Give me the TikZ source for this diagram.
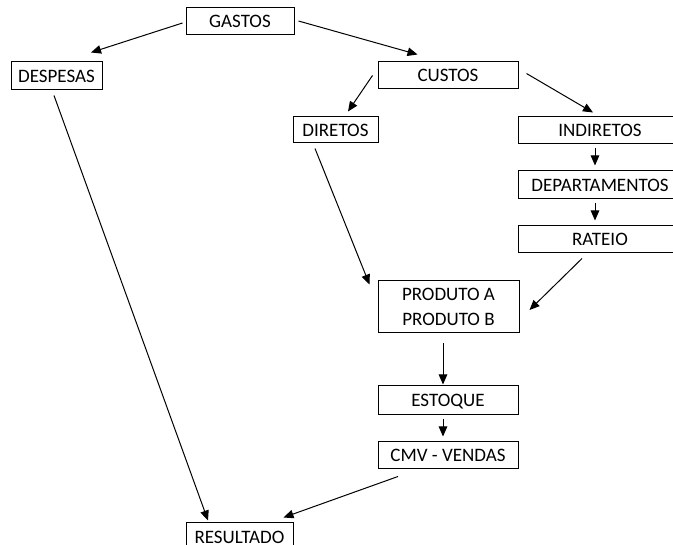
\documentclass[tikz,border=0pt]{standalone}
\usepackage{fontspec}
\setmainfont{Carlito}
\usetikzlibrary{arrows.meta,calc}
\begin{document}
\begin{tikzpicture}[x=1pt,y=-1pt,
  box/.style={draw,line width=1pt,inner sep=0pt,font=\fontsize{19}{25}\selectfont,text height=12.3pt,text depth=0pt},
  conn/.style={line width=1pt,-{Triangle[length=10pt,width=8.5pt]}}]
\useasboundingbox (0,0) rectangle (673,545);
\node[box,minimum width=108pt,minimum height=27pt] (gastos) at (240,21.5) {GASTOS};
\node[box,minimum width=91pt,minimum height=28pt] (despesas) at (56.5,76) {DESPESAS};
\node[box,minimum width=140pt,minimum height=27pt] (custos) at (448,75.5) {CUSTOS};
\node[box,minimum width=85pt,minimum height=26pt] (diretos) at (335.5,130) {DIRETOS};
\node[box,minimum width=164pt,minimum height=27pt] (indiretos) at (600,130.5) {INDIRETOS};
\node[box,minimum width=164pt,minimum height=28pt] (depto) at (600,185) {DEPARTAMENTOS};
\node[box,minimum width=164pt,minimum height=27pt] (rateio) at (600,239.5) {RATEIO};
\node[box,minimum width=141pt,minimum height=52pt,align=center,text height=,text depth=] (produto) at (448.5,307) {PRODUTO A\\PRODUTO B};
\node[box,minimum width=140pt,minimum height=29pt] (estoque) at (448,400.5) {ESTOQUE};
\node[box,minimum width=140pt,minimum height=27pt] (cmv) at (448,455.5) {CMV - VENDAS};
\node[box,minimum width=107pt,minimum height=28pt] (resultado) at (239.5,537) {RESULTADO};
\draw[conn] ($(gastos.west)+(-3,1.5)$) -- ($(despesas.north)+(34.5,-9)$);
\draw[conn] ($(gastos.east)+(4,-0.5)$) -- ($(custos.north west)+(40,-7)$);
\draw[conn] ($(custos.west)+(-5,0)$) -- ($(diretos.north)+(12.5,-5)$);
\draw[conn] ($(custos.east)+(8,-2)$) -- ($(indiretos.north)+(-7,-4)$);
\draw[conn] ($(indiretos.south)+(-5,4)$) -- ($(depto.north)+(-5,-5)$);
\draw[conn] ($(depto.south)+(-5,4)$) -- ($(rateio.north)+(-5,-5)$);
\draw[conn] ($(rateio.south)+(-18,5)$) -- ($(produto.east)+(10,3)$);
\draw[conn] ($(diretos.south)+(-20.5,5)$) -- ($(produto.north west)+(-8,4)$);
\draw[conn] ($(despesas.south)+(-2.5,5)$) -- ($(resultado.north)+(-31.5,-2)$);
\draw[conn] ($(produto.south)+(-5.5,10)$) -- ($(estoque.north)+(-5,-1)$);
\draw[conn] ($(estoque.south)+(-5,4)$) -- ($(cmv.north)+(-5,-5)$);
\draw[conn] ($(cmv.south)+(-50,7)$) -- ($(resultado.north east)+(-10,-5)$);
\end{tikzpicture}
\end{document}
